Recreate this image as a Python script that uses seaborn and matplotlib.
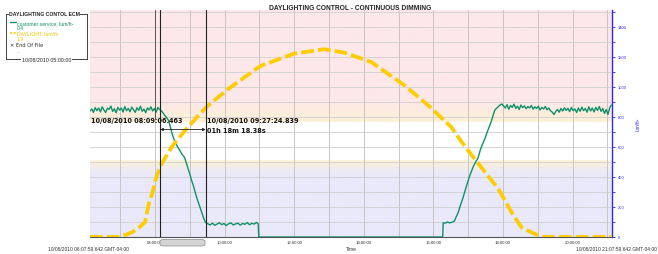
import numpy as np
import pandas as pd
import matplotlib
matplotlib.use("Agg")
import matplotlib.pyplot as plt
import matplotlib.dates as mdates
from matplotlib.ticker import MultipleLocator, FuncFormatter
from matplotlib.patches import FancyBboxPatch
from matplotlib.lines import Line2D
import seaborn as sns

# ---------------- data ----------------
DAY = "2010-10-08 "
x_start = "06:07:59.642"
x_end = "21:07:59.642"
cursor_a = "08:09:06.463"
cursor_b = "09:27:24.839"
cursor_a_label = "10/08/2010 08:09:06.463"
cursor_b_label = "10/08/2010 09:27:24.839"
delta_label = "01h 18m 18.38s"

green_times = [
    # morning plateau
    "06:08", "06:11", "06:14", "06:17", "06:20", "06:23", "06:26", "06:29", "06:32", "06:35",
    "06:38", "06:41", "06:44", "06:47", "06:50", "06:53", "06:56", "06:59", "07:02", "07:05",
    "07:08", "07:11", "07:14", "07:17", "07:20", "07:23", "07:26", "07:29", "07:32", "07:35",
    "07:38", "07:41", "07:44", "07:47", "07:50", "07:53", "07:56", "07:59", "08:02", "08:05",
    "08:08", "08:11",
    # dimming
    "08:14", "08:17", "08:20", "08:23", "08:26", "08:29", "08:32", "08:35", "08:39", "08:43",
    "08:47", "08:51", "08:54", "08:57", "09:00", "09:03", "09:06", "09:09", "09:12", "09:15",
    "09:18", "09:21", "09:24", "09:27",
    # low level
    "09:31", "09:35", "09:39", "09:43", "09:47", "09:51", "09:55", "09:59", "10:03", "10:07",
    "10:11", "10:15", "10:19", "10:23", "10:27", "10:31", "10:35", "10:39", "10:43", "10:47",
    "10:51", "10:55", "10:58", "10:59",
    # off
    "11:00", "13:00", "15:00", "16:16",
    # afternoon ramp
    "16:17", "16:20", "16:24", "16:28", "16:32", "16:36", "16:40", "16:43", "16:47", "16:51",
    "16:54", "16:58", "17:02", "17:05", "17:09", "17:13", "17:17", "17:21", "17:25", "17:29",
    "17:33", "17:37", "17:40", "17:43", "17:46", "17:50", "17:54", "17:58",
    # evening plateau
    "18:01", "18:04", "18:07", "18:10", "18:13", "18:16", "18:19", "18:22", "18:25", "18:28",
    "18:31", "18:34", "18:37", "18:40", "18:43", "18:46", "18:49", "18:52", "18:55", "18:58",
    "19:01", "19:04", "19:07", "19:10", "19:13", "19:16", "19:19", "19:22", "19:25", "19:28",
    "19:31", "19:34", "19:37", "19:40", "19:43", "19:46", "19:49", "19:52", "19:55", "19:58",
    "20:01", "20:04", "20:07", "20:10", "20:13", "20:16", "20:19", "20:22", "20:25", "20:28",
    "20:31", "20:34", "20:37", "20:40", "20:43", "20:46", "20:49", "20:52", "20:55", "20:58",
    "21:01", "21:04", "21:07",
]
green_vals = [
    838, 852, 829, 861, 840, 858, 832, 866, 845, 828,
    857, 849, 871, 835, 853, 826, 862, 844, 858, 831,
    868, 840, 855, 833, 864, 847, 829, 860, 842, 870,
    836, 851, 827, 859, 845, 866, 838, 855, 830, 862,
    848, 840,
    825, 808, 795, 778, 740, 695, 658, 628, 600, 575,
    548, 530, 492, 456, 420, 378, 345, 302, 262, 228,
    195, 160, 125, 98,
    88, 80, 92, 78, 86, 95, 82, 90, 76, 88,
    94, 80, 87, 92, 79, 90, 84, 96, 82, 91,
    86, 97, 88, 2,
    0, 0, 0, 0,
    95, 92, 100, 94, 98, 105, 140, 165, 215, 260,
    300, 350, 400, 430, 470, 500, 525, 580, 620, 655,
    700, 740, 770, 810, 845, 860, 875, 885,
    872, 858, 880, 850, 875, 862, 884, 855, 870, 848,
    878, 860, 872, 853, 868, 858, 875, 850, 866, 855,
    870, 845, 862, 852, 868, 846, 858, 840, 830, 815,
    835, 848, 830, 855, 838, 860, 842, 856, 834, 862,
    840, 852, 828, 858, 836, 864, 840, 855, 830, 866,
    838, 858, 832, 862, 842, 868, 836, 855, 822, 848,
    815, 860, 878,
]

yellow_times = [
    "06:08", "06:58", "07:10", "07:22", "07:35", "07:43", "07:46", "07:50", "07:56", "08:01",
    "08:09", "08:29", "08:52", "09:15", "09:32", "10:07", "11:02", "12:00", "12:52", "13:26",
    "14:13", "15:10", "15:51", "16:31", "16:49", "17:11", "17:52", "18:15", "18:32", "18:55",
    "19:10", "21:08",
]
yellow_vals = [
    0, 0, 15, 35, 70, 100, 160, 230, 300, 380,
    470, 600, 709, 809, 876, 987, 1138, 1220, 1249, 1227,
    1164, 1009, 876, 731, 631, 520, 320, 164, 64, 20,
    0, 0,
]

y_max = 1510
band_lavender_top = 420
band_low_edge = 510
band_high_edge = 765
band_pink_bottom = 900

# ---------------- styling ----------------
sns.set_style("white")
plt.rcParams["font.family"] = ["Liberation Sans", "DejaVu Sans"]

GREEN = "#10906a"
YELLOW = "#ffcc00"
BLUE = "#2a2aff"
PINK = np.array([253, 232, 233]) / 255
PEACH = np.array([253, 241, 214]) / 255
LAV = np.array([233, 233, 250]) / 255
WHITE = np.array([255, 255, 255]) / 255

W, H = 658, 255
fig = plt.figure(figsize=(W / 100, H / 100), dpi=100)
ax = fig.add_axes([90 / W, 17 / H, 522 / W, 227 / H])

def to_dt(s):
    return pd.Timestamp(DAY + s)

gdf = pd.DataFrame({"time": [to_dt(t) for t in green_times], "value": green_vals})
ydf = pd.DataFrame({"time": [to_dt(t) for t in yellow_times], "value": yellow_vals})

x0, x1 = to_dt(x_start), to_dt(x_end)

# background bands (gradient image)
vals = np.linspace(0, y_max, 600)
cols = np.zeros((len(vals), 1, 3))
for i, v in enumerate(vals):
    if v < band_lavender_top:
        c = LAV
    elif v < band_low_edge:
        f = (v - band_lavender_top) / (band_low_edge - band_lavender_top)
        c = LAV * (1 - f) + PEACH * f
    elif v < band_high_edge:
        c = WHITE
    elif v < band_pink_bottom:
        f = (v - band_high_edge) / (band_pink_bottom - band_high_edge)
        c = PEACH * (1 - f) + PINK * f
    else:
        c = PINK
    cols[i, 0] = c
ax.imshow(cols, origin="lower", aspect="auto",
          extent=[mdates.date2num(x0), mdates.date2num(x1), 0, y_max], zorder=0)

sns.lineplot(data=gdf, x="time", y="value", ax=ax, color=GREEN, linewidth=1.0,
             zorder=3, legend=False)
sns.lineplot(data=ydf, x="time", y="value", ax=ax, color=YELLOW, linewidth=2.7,
             linestyle=(0, (3.4, 1.1)), zorder=4, legend=False)

ax.set_xlim(x0, x1)
ax.set_ylim(0, y_max)
ax.set_xlabel("")

# grid
ax.grid(True, which="major", axis="x", color="#c4bcbc", linewidth=0.6, zorder=1)
ax.grid(True, which="both", axis="y", color="#cfcfcf", linewidth=0.6, zorder=1)
ax.set_axisbelow(False)
for gl in ax.get_xgridlines() + ax.get_ygridlines():
    gl.set_zorder(1)

# x axis
ax.xaxis.set_major_locator(mdates.HourLocator())
def xfmt(v, pos):
    d = mdates.num2date(v)
    return d.strftime("%H:%M:%S") if d.hour % 2 == 0 else ""
ax.xaxis.set_major_formatter(FuncFormatter(xfmt))
ax.tick_params(axis="x", direction="out", length=2, width=0.6, color="#555555",
               labelsize=3.1, labelcolor="#333333", pad=0.5)

# right y axis
ax.yaxis.tick_right()
ax.yaxis.set_major_locator(MultipleLocator(100))
ax.yaxis.set_major_formatter(FuncFormatter(lambda v, p: f"{int(v)}" if int(v) % 200 == 0 else ""))
ax.tick_params(axis="y", direction="out", length=2.3, width=0.6, color=BLUE,
               labelsize=3.0, labelcolor=BLUE, pad=2)
ax.set_ylabel("lum/ft²", color=BLUE, fontsize=3.4, rotation=90, labelpad=6)
ax.yaxis.set_label_position("right")

for s in ["left", "top"]:
    ax.spines[s].set_visible(False)
ax.spines["right"].set_color(BLUE)
ax.spines["right"].set_linewidth(1.0)
ax.spines["bottom"].set_color("#555555")
ax.spines["bottom"].set_linewidth(0.8)

# cursors
ax.axvline(to_dt("08:00:00"), ymin=0.52, ymax=1, color="#444444", linewidth=0.6, zorder=5)
ax.axvline(to_dt(cursor_a), color="#222222", linewidth=0.8, zorder=5)
ax.axvline(to_dt(cursor_b), color="#222222", linewidth=0.8, zorder=5)

ann_font = dict(family="DejaVu Sans", fontweight="bold", fontsize=4.7, color="#111111")
ax.text(to_dt("06:09:00"), 778, cursor_a_label, ha="left", va="center", zorder=6, **ann_font)
ax.text(to_dt("09:30:30"), 778, cursor_b_label, ha="left", va="center", zorder=6, **ann_font)
ax.annotate("", xy=(to_dt(cursor_a), 715), xytext=(to_dt(cursor_b), 715),
            arrowprops=dict(arrowstyle="<|-|>", color="#222222", lw=0.6,
                            mutation_scale=4, shrinkA=0, shrinkB=0), zorder=6)
ax.text(to_dt("09:30:30"), 715, delta_label, ha="left", va="center", zorder=6, **ann_font)

# title
fig.text(350 / W, 1 - 8 / H, "DAYLIGHTING CONTROL - CONTINUOUS DIMMING",
         ha="center", va="center", fontsize=4.8, fontweight="bold", color="#222222")

# bottom texts
small = dict(fontsize=3.5, color="#333333", va="center")
fig.text(48 / W, 1 - 249.5 / H, "10/08/2010 06:07:59.642 GMT-04:00", ha="left", **small)
fig.text(657 / W, 1 - 249.5 / H, "10/08/2010 21:07:59.642 GMT-04:00", ha="right", **small)
fig.text(346 / W, 1 - 249.5 / H, "Time", ha="left", **small)

# scrollbar
sb = FancyBboxPatch((160 / W, 1 - 247 / H), 45 / W, 6.5 / H,
                    boxstyle="round,pad=0,rounding_size=0.006",
                    transform=fig.transFigure, facecolor="#d4d4d4",
                    edgecolor="#8a8a8a", linewidth=0.5, zorder=10)
fig.add_artist(sb)

# legend box (fieldset style)
def fx(px): return px / W
def fy(py): return 1 - py / H
bx0, bx1, by0, by1 = 6, 86.5, 15, 60
for xs, ys in [([bx0, bx0], [by0, by1]), ([bx1, bx1], [by0, by1]),
               ([bx0, bx1], [by0, by0]), ([bx0, bx1], [by1, by1])]:
    fig.add_artist(Line2D([fx(v) for v in xs], [fy(v) for v in ys], color="#222222", lw=0.6))
fig.text(fx(9), fy(by0), "DAYLIGHTING CONTOL ECM", ha="left", va="center",
         fontsize=3.7, fontweight="bold", color="#222222",
         bbox=dict(facecolor="white", edgecolor="none", pad=0.3))
fig.text(fx(46.5), fy(by1), "10/08/2010 05:00:00", ha="center", va="center",
         fontsize=3.8, color="#222222",
         bbox=dict(facecolor="white", edgecolor="none", pad=0.3))
fig.add_artist(Line2D([fx(10), fx(16)], [fy(23.3), fy(23.3)], color=GREEN, lw=1.0))
fig.text(fx(17), fy(23.3), "customer service, lum/ft²", ha="left", va="center",
         fontsize=3.7, color=GREEN)
fig.text(fx(17), fy(28.5), "0.4", ha="left", va="center", fontsize=3.7, color=GREEN)
fig.add_artist(Line2D([fx(10), fx(16)], [fy(34), fy(34)], color=YELLOW, lw=1.2,
                      linestyle=(0, (1.2, 1.0))))
fig.text(fx(17), fy(34), "DAYLIGHT, lum/ft²", ha="left", va="center",
         fontsize=3.7, color="#f0c000")
fig.text(fx(17), fy(39.5), "1.9", ha="left", va="center", fontsize=3.7, color="#f0c000")
fig.text(fx(10), fy(45.7), "✕ End Of File", ha="left", va="center",
         fontsize=3.7, color="#333333", family=["DejaVu Sans"])
fig.text(fx(17), fy(51.5), "...", ha="left", va="center", fontsize=3.7, color="#999999")

fig.savefig("out.png", dpi=100)
